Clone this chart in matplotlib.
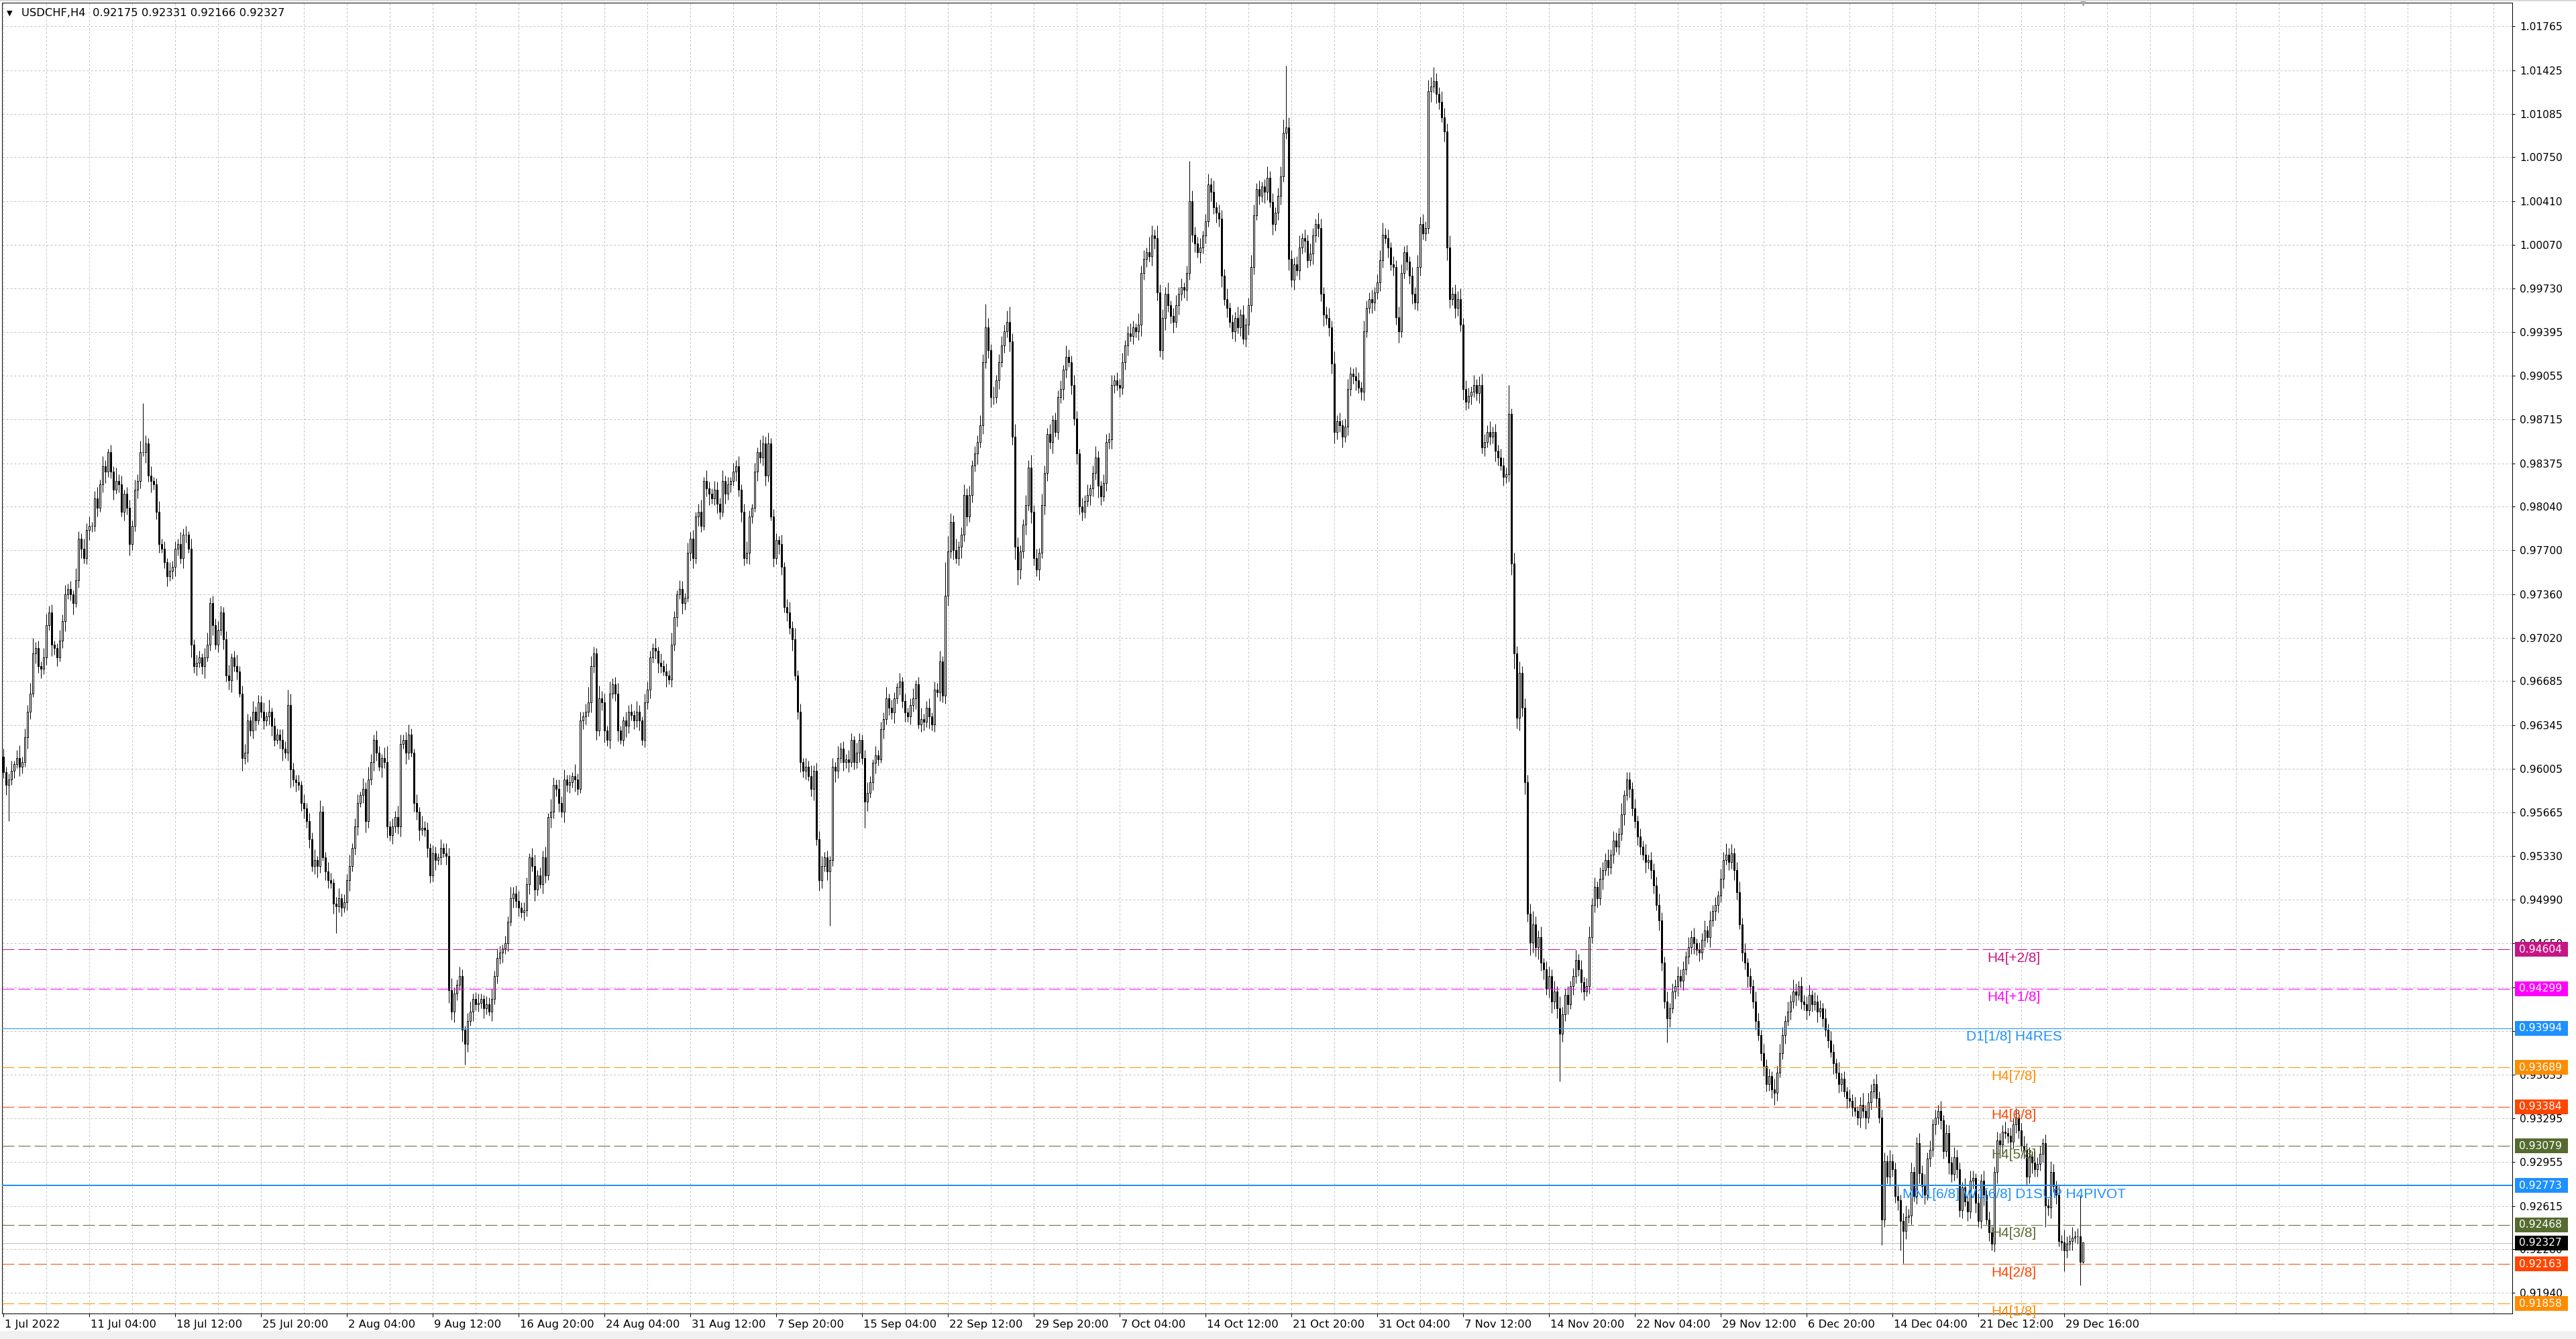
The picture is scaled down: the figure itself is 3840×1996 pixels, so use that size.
import matplotlib
matplotlib.use("Agg")
import matplotlib.pyplot as plt
import matplotlib.transforms as mtrans
from matplotlib.ticker import FixedLocator, MultipleLocator
from matplotlib.patches import Rectangle
import numpy as np

plt.rcParams['font.family'] = ['DejaVu Sans']

header = "USDCHF,H4  0.92175 0.92331 0.92166 0.92327"

# H4 closes in pips (1e-4), 16 bars per row, bar 0 = 1 Jul 2022 20:00
first_open = 9610
close_pips = [
    9598, 9588, 9592, 9599, 9604, 9609, 9602, 9606, 9625, 9645, 9659, 9690, 9694, 9680, 9678, 9687,
    9712, 9722, 9697, 9694, 9687, 9700, 9715, 9736, 9740, 9736, 9729, 9747, 9779, 9771, 9764, 9786,
    9789, 9789, 9810, 9803, 9821, 9835, 9831, 9846, 9831, 9817, 9824, 9821, 9800, 9814, 9803, 9775,
    9789, 9817, 9824, 9846, 9846, 9853, 9828, 9824, 9821, 9800, 9775, 9771, 9761, 9750, 9754, 9757,
    9771, 9775, 9764, 9782, 9782, 9771, 9697, 9680, 9683, 9687, 9680, 9687, 9697, 9729, 9712, 9697,
    9708, 9722, 9701, 9673, 9669, 9687, 9680, 9676, 9659, 9609, 9613, 9638, 9630, 9645, 9638, 9652,
    9645, 9638, 9641, 9645, 9634, 9623, 9627, 9623, 9616, 9613, 9650, 9600, 9592, 9590, 9588, 9574,
    9570, 9560, 9546, 9525, 9530, 9525, 9567, 9532, 9521, 9514, 9512, 9496, 9494, 9500, 9493, 9497,
    9514, 9525, 9539, 9556, 9574, 9580, 9585, 9560, 9592, 9606, 9623, 9613, 9602, 9609, 9606, 9556,
    9549, 9556, 9563, 9556, 9620, 9623, 9613, 9627, 9613, 9574, 9567, 9553, 9555, 9553, 9539, 9518,
    9535, 9530, 9532, 9539, 9535, 9533, 9429, 9412, 9426, 9433, 9440, 9398, 9387, 9405, 9412, 9422,
    9418, 9419, 9422, 9415, 9418, 9412, 9422, 9440, 9454, 9458, 9461, 9465, 9482, 9500, 9504, 9498,
    9493, 9489, 9491, 9511, 9532, 9525, 9507, 9518, 9511, 9532, 9518, 9563, 9567, 9588, 9585, 9574,
    9567, 9592, 9588, 9590, 9595, 9592, 9585, 9638, 9641, 9645, 9652, 9680, 9690, 9630, 9655, 9652,
    9630, 9623, 9659, 9666, 9659, 9630, 9623, 9638, 9634, 9645, 9642, 9638, 9645, 9638, 9623, 9652,
    9662, 9687, 9694, 9692, 9683, 9680, 9676, 9673, 9670, 9697, 9718, 9736, 9740, 9729, 9733, 9768,
    9779, 9764, 9796, 9800, 9789, 9824, 9818, 9814, 9810, 9817, 9806, 9800, 9824, 9814, 9821, 9824,
    9831, 9835, 9817, 9800, 9764, 9768, 9796, 9803, 9831, 9846, 9842, 9853, 9828, 9853, 9796, 9764,
    9778, 9775, 9757, 9726, 9722, 9710, 9701, 9673, 9645, 9606, 9599, 9602, 9595, 9585, 9599, 9546,
    9514, 9525, 9532, 9521, 9530, 9602, 9599, 9609, 9616, 9606, 9608, 9606, 9623, 9606, 9613, 9623,
    9609, 9575, 9582, 9590, 9605, 9611, 9608, 9631, 9639, 9655, 9648, 9644, 9655, 9664, 9668, 9653,
    9644, 9641, 9650, 9655, 9666, 9635, 9639, 9637, 9648, 9641, 9635, 9662, 9660, 9684, 9657, 9735,
    9769, 9792, 9770, 9764, 9773, 9782, 9813, 9796, 9813, 9836, 9845, 9854, 9867, 9916, 9943, 9925,
    9889, 9889, 9902, 9916, 9929, 9940, 9947, 9932, 9858, 9773, 9755, 9769, 9790, 9805, 9834, 9800,
    9764, 9755, 9768, 9805, 9830, 9860, 9854, 9871, 9862, 9889, 9895, 9910, 9920, 9916, 9898, 9872,
    9845, 9804, 9800, 9808, 9813, 9818, 9830, 9842, 9820, 9812, 9822, 9854, 9856, 9898, 9902, 9898,
    9896, 9916, 9929, 9938, 9936, 9943, 9940, 9945, 9985, 9996, 10001, 9998, 10014, 10012, 9970, 9925,
    9950, 9969, 9960, 9952, 9947, 9960, 9969, 9974, 9972, 9985, 10041, 10015, 10008, 10001, 10005, 10014,
    10025, 10054, 10048, 10036, 10032, 10027, 9983, 9965, 9958, 9947, 9940, 9950, 9943, 9953, 9934, 9945,
    9960, 9990, 10030, 10050, 10045, 10052, 10048, 10059, 10040, 10023, 10032, 10045, 10060, 10094, 10098, 9996,
    9980, 9992, 9987, 10005, 10012, 10010, 9995, 10000, 10014, 10023, 10020, 9969, 9953, 9950, 9943, 9915,
    9862, 9870, 9867, 9858, 9866, 9895, 9907, 9905, 9902, 9896, 9893, 9940, 9958, 9965, 9962, 9970,
    9978, 9995, 10015, 10012, 10005, 9992, 9990, 9951, 9940, 9985, 10001, 9994, 9983, 9969, 9962, 9990,
    10023, 10016, 10020, 10126, 10130, 10134, 10124, 10118, 10106, 10095, 10005, 9965, 9969, 9958, 9965, 9945,
    9895, 9885, 9890, 9893, 9898, 9892, 9898, 9850, 9854, 9862, 9858, 9862, 9847, 9842, 9836, 9827,
    9829, 9876, 9760, 9690, 9640, 9675, 9648, 9590, 9488, 9466, 9480, 9462, 9470, 9450, 9445, 9430,
    9440, 9420, 9428, 9415, 9395, 9410, 9425, 9418, 9432, 9440, 9452, 9445, 9435, 9428, 9432, 9470,
    9495, 9509, 9500, 9515, 9522, 9530, 9524, 9534, 9545, 9540, 9550, 9565, 9580, 9592, 9585, 9570,
    9560, 9548, 9540, 9534, 9528, 9530, 9522, 9510, 9495, 9483, 9450, 9420, 9407, 9415, 9428, 9432,
    9440, 9436, 9445, 9455, 9462, 9470, 9465, 9460, 9458, 9468, 9475, 9470, 9483, 9490, 9495, 9502,
    9515, 9530, 9534, 9528, 9535, 9522, 9505, 9480, 9458, 9450, 9440, 9432, 9420, 9405, 9394, 9380,
    9370, 9356, 9362, 9352, 9349, 9365, 9380, 9394, 9405, 9412, 9420, 9428, 9425, 9432, 9420, 9418,
    9413, 9425, 9418, 9420, 9412, 9415, 9407, 9398, 9390, 9381, 9372, 9365, 9356, 9360, 9350, 9345,
    9343, 9338, 9335, 9330, 9340, 9335, 9330, 9342, 9350, 9356, 9345, 9330, 9251, 9296, 9284, 9296,
    9290, 9269, 9266, 9250, 9242, 9253, 9254, 9288, 9269, 9310, 9287, 9277, 9270, 9298, 9305, 9325,
    9330, 9335, 9328, 9304, 9318, 9295, 9286, 9299, 9290, 9258, 9276, 9265, 9257, 9281, 9283, 9264,
    9250, 9281, 9270, 9251, 9241, 9232, 9288, 9312, 9309, 9319, 9318, 9316, 9311, 9325, 9330, 9320,
    9308, 9305, 9284, 9300, 9295, 9290, 9294, 9302, 9310, 9262, 9260, 9288, 9277, 9270, 9234, 9233,
    9227, 9232, 9234, 9237, 9238, 9238, 9218, 9233,
]

# upper / lower wick beyond the body, pips
hi_ext = [
    6, 4, 5, 8, 3, 6, 10, 4, 7, 5, 8, 12, 5, 6, 4, 7,
    9, 5, 6, 3, 4, 8, 5, 7, 4, 6, 3, 9, 6, 4, 8, 5,
    7, 3, 6, 9, 4, 8, 5, 3, 6, 4, 10, 5, 7, 3, 5, 6,
    4, 8, 5, 9, 38, 6, 4, 7, 3, 5, 8, 4, 6, 3, 7, 5,
    6, 4, 9, 5, 7, 3, 8, 4, 6, 5, 3, 7, 9, 4, 6, 5,
    7, 5, 4, 6, 8, 3, 5, 9, 4, 6, 7, 5, 3, 8, 4, 6,
    5, 7, 4, 9, 3, 6, 5, 4, 8, 6, 12, 9, 5, 4, 6, 3,
    7, 4, 6, 5, 8, 3, 9, 5, 4, 7, 6, 3, 5, 8, 4, 6,
    5, 9, 4, 6, 7, 3, 8, 5, 10, 6, 4, 7, 5, 3, 8, 12,
    4, 6, 5, 9, 7, 4, 6, 8, 5, 3, 7, 4, 9, 5, 6, 4,
    6, 5, 3, 7, 4, 8, 6, 9, 5, 4, 7, 5, 3, 6, 8, 4,
    5, 7, 4, 3, 6, 5, 8, 4, 7, 5, 3, 6, 4, 9, 5, 6,
    8, 4, 6, 5, 3, 7, 9, 4, 6, 5, 8, 3, 10, 6, 4, 7,
    5, 8, 4, 6, 3, 9, 5, 7, 4, 6, 12, 8, 5, 4, 10, 6,
    7, 4, 9, 5, 6, 8, 4, 3, 7, 5, 6, 4, 8, 5, 3, 7,
    6, 5, 4, 8, 3, 7, 5, 6, 4, 9, 5, 3, 7, 6, 4, 8,
    5, 7, 4, 6, 9, 3, 8, 5, 4, 7, 6, 5, 8, 4, 6, 3,
    7, 5, 8, 4, 6, 9, 5, 3, 7, 4, 10, 6, 5, 8, 4, 6,
    5, 3, 7, 4, 6, 8, 5, 9, 4, 6, 3, 7, 5, 8, 4, 6,
    6, 8, 4, 5, 3, 7, 4, 9, 5, 6, 4, 7, 5, 3, 8, 5,
    4, 6, 8, 5, 3, 7, 4, 6, 5, 9, 4, 6, 5, 3, 7, 4,
    6, 4, 5, 8, 3, 6, 9, 4, 5, 7, 3, 6, 5, 8, 4, 26,
    12, 7, 5, 9, 4, 6, 8, 5, 7, 4, 6, 5, 8, 6, 18, 7,
    5, 8, 4, 6, 7, 5, 9, 12, 6, 10, 7, 5, 4, 8, 6, 10,
    5, 7, 4, 9, 6, 5, 8, 4, 6, 5, 7, 4, 9, 6, 5, 8,
    6, 4, 7, 5, 8, 3, 6, 9, 5, 4, 7, 6, 5, 8, 4, 6,
    5, 7, 4, 6, 8, 5, 3, 9, 6, 7, 4, 12, 8, 5, 10, 6,
    7, 5, 9, 4, 6, 8, 5, 7, 4, 6, 31, 8, 6, 5, 7, 4,
    6, 8, 5, 9, 4, 6, 7, 5, 8, 4, 6, 5, 9, 4, 7, 5,
    6, 9, 8, 5, 7, 4, 6, 9, 5, 7, 4, 6, 8, 10, 48, 8,
    7, 5, 6, 9, 4, 7, 5, 8, 6, 4, 9, 7, 5, 6, 8, 5,
    9, 5, 7, 4, 6, 8, 5, 4, 7, 6, 5, 8, 6, 5, 7, 4,
    6, 8, 9, 5, 7, 4, 6, 5, 8, 7, 5, 6, 4, 7, 5, 9,
    6, 8, 5, 9, 7, 11, 6, 5, 8, 7, 6, 9, 5, 7, 6, 8,
    5, 7, 6, 4, 8, 5, 7, 9, 6, 5, 8, 4, 6, 5, 7, 6,
    5, 22, 4, 8, 6, 9, 5, 7, 6, 8, 10, 6, 5, 8, 4, 6,
    7, 5, 8, 4, 9, 6, 5, 7, 4, 6, 8, 5, 7, 4, 6, 8,
    5, 7, 4, 9, 6, 5, 8, 4, 7, 6, 5, 9, 4, 6, 6, 5,
    7, 4, 6, 5, 8, 4, 6, 5, 7, 9, 6, 5, 8, 4, 6, 5,
    7, 5, 6, 4, 8, 5, 7, 4, 6, 5, 8, 4, 7, 5, 6, 4,
    8, 6, 9, 5, 7, 4, 6, 8, 5, 7, 4, 6, 5, 8, 6, 4,
    7, 5, 6, 4, 8, 5, 7, 6, 4, 8, 5, 9, 6, 4, 7, 5,
    6, 8, 4, 7, 5, 6, 4, 8, 5, 7, 6, 4, 8, 5, 6, 4,
    7, 5, 8, 4, 6, 9, 5, 7, 6, 4, 8, 5, 6, 7, 5, 9,
    6, 5, 8, 4, 6, 9, 5, 7, 4, 5, 8, 6, 9, 5, 7, 4,
    6, 5, 8, 4, 7, 6, 5, 8, 6, 5, 4, 7, 5, 8, 6, 4,
    7, 5, 8, 4, 6, 5, 4, 7, 6, 5, 8, 4, 6, 5, 7, 5,
    6, 8, 5, 7, 4, 9, 5, 6, 4, 7, 5, 8, 6, 4, 7, 5,
    10, 6, 5, 8, 4, 6, 31, 0,
]
lo_ext = [
    5, 8, 28, 4, 6, 3, 7, 5, 4, 9, 6, 3, 8, 5, 7, 4,
    6, 4, 9, 5, 7, 3, 6, 8, 4, 5, 9, 3, 6, 7, 4, 5,
    8, 5, 4, 7, 3, 6, 9, 4, 5, 8, 3, 6, 4, 7, 5, 9,
    5, 4, 7, 6, 3, 8, 5, 9, 4, 6, 7, 3, 5, 8, 4, 6,
    7, 5, 4, 8, 6, 3, 10, 5, 7, 4, 6, 9, 3, 5, 8, 4,
    6, 4, 8, 5, 7, 9, 4, 6, 3, 10, 5, 7, 4, 6, 8, 3,
    5, 7, 4, 6, 8, 5, 3, 7, 9, 4, 6, 14, 5, 7, 4, 6,
    8, 5, 7, 4, 6, 9, 5, 3, 7, 6, 4, 8, 21, 5, 7, 4,
    6, 8, 4, 5, 7, 3, 6, 9, 5, 4, 7, 6, 3, 8, 5, 9,
    4, 7, 5, 6, 8, 4, 9, 5, 3, 7, 6, 8, 4, 5, 7, 6,
    5, 8, 4, 6, 3, 7, 10, 6, 8, 5, 4, 9, 16, 6, 4, 7,
    5, 6, 4, 8, 5, 3, 7, 4, 6, 5, 8, 4, 6, 3, 7, 5,
    7, 4, 6, 5, 8, 4, 9, 5, 3, 7, 6, 4, 8, 5, 6, 7,
    4, 8, 5, 6, 4, 9, 5, 3, 7, 6, 4, 8, 5, 7, 4, 6,
    9, 5, 7, 4, 6, 8, 3, 5, 9, 6, 4, 7, 5, 8, 4, 6,
    5, 7, 4, 6, 8, 5, 3, 9, 4, 6, 5, 7, 4, 8, 5, 3,
    6, 8, 4, 7, 5, 3, 6, 9, 4, 5, 7, 6, 4, 8, 5, 6,
    4, 7, 5, 8, 6, 4, 9, 5, 3, 7, 4, 6, 8, 5, 3, 7,
    5, 8, 6, 4, 7, 5, 9, 4, 6, 8, 5, 7, 4, 6, 9, 5,
    8, 6, 4, 7, 42, 5, 9, 6, 4, 7, 5, 8, 4, 6, 5, 7,
    5, 20, 7, 4, 6, 8, 5, 3, 7, 4, 6, 5, 8, 4, 6, 5,
    7, 4, 6, 5, 8, 3, 6, 7, 4, 9, 5, 6, 4, 7, 5, 6,
    8, 5, 7, 4, 6, 9, 5, 7, 4, 6, 5, 8, 4, 7, 5, 6,
    8, 6, 5, 7, 4, 6, 5, 8, 6, 10, 12, 7, 5, 8, 4, 9,
    6, 5, 8, 4, 7, 6, 5, 9, 4, 6, 5, 8, 6, 4, 7, 5,
    8, 6, 7, 5, 4, 8, 6, 5, 9, 7, 4, 6, 5, 7, 6, 4,
    7, 5, 6, 8, 4, 6, 5, 7, 9, 5, 6, 4, 7, 8, 6, 5,
    7, 9, 5, 6, 8, 4, 7, 5, 6, 8, 5, 6, 7, 4, 8, 5,
    6, 4, 7, 5, 8, 6, 9, 5, 7, 4, 6, 8, 5, 7, 4, 6,
    8, 5, 6, 4, 7, 5, 9, 6, 4, 8, 5, 6, 7, 4, 5, 9,
    6, 8, 4, 7, 5, 9, 6, 4, 8, 5, 7, 6, 9, 5, 7, 8,
    9, 6, 5, 8, 4, 7, 5, 6, 8, 4, 6, 7, 5, 4, 8, 6,
    5, 7, 6, 4, 8, 5, 7, 6, 9, 5, 4, 7, 6, 8, 5, 6,
    7, 5, 6, 4, 8, 5, 7, 6, 4, 8, 10, 7, 5, 8, 6, 5,
    8, 6, 5, 7, 4, 6, 8, 5, 7, 4, 6, 5, 8, 6, 4, 7,
    5, 6, 9, 12, 8, 10, 7, 9, 6, 10, 8, 7, 9, 6, 8, 5,
    7, 9, 6, 8, 37, 6, 5, 8, 4, 7, 6, 5, 8, 7, 4, 6,
    5, 6, 7, 5, 8, 4, 6, 5, 7, 4, 6, 5, 8, 4, 7, 6,
    5, 7, 6, 4, 8, 5, 7, 6, 4, 8, 6, 5, 19, 7, 4, 6,
    8, 5, 7, 4, 6, 5, 8, 4, 7, 5, 6, 4, 8, 5, 7, 6,
    5, 7, 4, 6, 5, 8, 6, 4, 7, 5, 9, 6, 5, 7, 4, 6,
    8, 6, 5, 7, 9, 6, 4, 5, 7, 4, 6, 5, 8, 4, 6, 5,
    7, 4, 6, 5, 8, 4, 7, 5, 6, 4, 8, 5, 7, 6, 4, 8,
    5, 7, 4, 6, 8, 5, 9, 4, 6, 5, 7, 4, 20, 6, 5, 7,
    6, 5, 8, 23, 25, 6, 5, 7, 4, 6, 8, 5, 7, 4, 6, 5,
    8, 5, 7, 6, 4, 9, 6, 5, 7, 5, 6, 4, 7, 5, 6, 8,
    5, 6, 8, 4, 7, 5, 6, 9, 5, 7, 4, 6, 8, 5, 7, 6,
    4, 7, 6, 5, 8, 6, 6, 5, 7, 17, 6, 8, 5, 7, 4, 6,
    16, 6, 5, 7, 4, 6, 18, 1,
]

date_labels = [
    "1 Jul 2022", "11 Jul 04:00", "18 Jul 12:00", "25 Jul 20:00", "2 Aug 04:00",
    "9 Aug 12:00", "16 Aug 20:00", "24 Aug 04:00", "31 Aug 12:00", "7 Sep 20:00",
    "15 Sep 04:00", "22 Sep 12:00", "29 Sep 20:00", "7 Oct 04:00", "14 Oct 12:00",
    "21 Oct 20:00", "31 Oct 04:00", "7 Nov 12:00", "14 Nov 20:00", "22 Nov 04:00",
    "29 Nov 12:00", "6 Dec 20:00", "14 Dec 04:00", "21 Dec 12:00", "29 Dec 16:00",
]
bars_per_label = 32

price_labels = [
    "1.01765", "1.01425", "1.01085", "1.00750", "1.00410", "1.00070", "0.99730",
    "0.99395", "0.99055", "0.98715", "0.98375", "0.98040", "0.97700", "0.97360",
    "0.97020", "0.96685", "0.96345", "0.96005", "0.95665", "0.95330", "0.94990",
    "0.94650", "0.94310", "0.93970", "0.93635", "0.93295", "0.92955", "0.92615",
    "0.92280", "0.91940",
]

level_names = ["H4[+2/8]", "H4[+1/8]", "D1[1/8] H4RES", "H4[7/8]", "H4[6/8]",
               "H4[5/8]", "MN1[6/8] W1[6/8] D1SUP H4PIVOT", "H4[3/8]", "H4[2/8]", "H4[1/8]"]
level_prices = [0.94604, 0.94299, 0.93994, 0.93689, 0.93384,
                0.93079, 0.92773, 0.92468, 0.92163, 0.91858]
last_price = 0.92327

# styles
level_colors = ["#C71585", "#FF00FF", "#1E90FF", "#FF8C00", "#FF4500",
                "#556B2F", "#1E90FF", "#556B2F", "#FF4500", "#FF8C00"]
level_solid = [False, False, True, False, False, False, True, False, False, False]
level_lw = [1, 1, 1, 1, 1, 1, 2, 1, 1, 1]

W, H = 3840, 1996
PX = 72 / 100  # one pixel in points

c = np.array(close_pips) / 1e4
o = np.concatenate([[first_open / 1e4], c[:-1]])
top = np.maximum(o, c)
bot = np.minimum(o, c)
hi = top + np.array(hi_ext) / 1e4
lo = bot - np.array(lo_ext) / 1e4
x = np.arange(len(c))

fig = plt.figure(figsize=(W / 100, H / 100), dpi=100)
fig.patch.set_facecolor("white")
left, right, ytop, ybot = 3, 3745, 4, 1958
y0, y1 = 0.91780, 1.01948
ax = fig.add_axes([left / W, 1 - ybot / H, (right - left) / W, (ybot - ytop) / H])
ax.set_xlim(-0.5, 935)
ax.set_ylim(y0, y1)

for s in ax.spines.values():
    s.set_color("black")
    s.set_linewidth(PX)

# grid
ax.xaxis.set_major_locator(FixedLocator(np.arange(len(date_labels)) * bars_per_label))
ax.xaxis.set_minor_locator(MultipleLocator(16))
ax.set_xticklabels(date_labels)
ax.set_yticks([float(p) for p in price_labels])
ax.set_yticklabels(price_labels)
ax.grid(which="both", color="#C0C0C0", linewidth=PX, linestyle=(0, (3, 3)), zorder=0)
ax.set_axisbelow(True)

ax.yaxis.tick_right()
ax.tick_params(axis="y", which="major", direction="out", length=4 * PX, width=PX,
               pad=5, labelsize=11.2, colors="black")
ax.tick_params(axis="x", which="major", direction="out", length=5 * PX, width=PX,
               pad=3, labelsize=11.8, colors="black")
ax.tick_params(axis="x", which="minor", length=0)
shift = mtrans.ScaledTranslation(2 / 100, 0, fig.dpi_scale_trans)
for lab in ax.get_xticklabels():
    lab.set_ha("left")
    lab.set_transform(lab.get_transform() + shift)

# current price line
ax.axhline(last_price, color="#C0C0C0", linewidth=PX, zorder=1)

# candles
ax.vlines(x, lo, hi, colors="black", linewidth=PX, zorder=2)
up = c >= o
ax.bar(x[up], (c - o)[up], bottom=o[up], width=0.55, facecolor="white",
       edgecolor="black", linewidth=PX, zorder=3)
ax.bar(x[~up], (o - c)[~up], bottom=c[~up], width=0.55, facecolor="black",
       edgecolor="black", linewidth=PX, zorder=3)

# Murrey levels
label_x = (3002 - 5) / 4
for name, price, col, solid, lw in zip(level_names, level_prices, level_colors, level_solid, level_lw):
    ls = "-" if solid else (0, (18, 6))
    ax.axhline(price, color=col, linewidth=lw * PX, linestyle=ls, zorder=4)
    t = ax.annotate(name, xy=(label_x, price), xytext=(0, -2.5), textcoords="offset points",
                    ha="center", va="top", color=col, fontsize=15,
                    family=["Liberation Sans", "DejaVu Sans"], zorder=6)
    t.set_clip_on(True)

# price tags on the right scale, 79 x 22 px boxes
def fig_y(p):
    return (H - ybot + (p - y0) / (y1 - y0) * (ybot - ytop)) / H

for price, col in zip(level_prices + [last_price], level_colors + ["black"]):
    yc = fig_y(price)
    fig.add_artist(Rectangle((3749 / W, yc - 11 / H), 79 / W, 22 / H,
                             transform=fig.transFigure, facecolor=col,
                             edgecolor="none", zorder=5))
    fig.text(3755 / W, yc, "%.5f" % price, ha="left", va="center", color="white",
             fontsize=11.2, zorder=6)

# chart shift marker
ax.plot([len(c) - 1], [y1], marker="v", color="#A8A8A8", markersize=6,
        clip_on=False, zorder=10)

# header
fig.text(10 / W, 1 - 20 / H, "\u25bc", fontsize=8, va="center", ha="left", color="black")
fig.text(32 / W, 1 - 20 / H, header, fontsize=11.8, va="center", ha="left", color="black")

# window frame strips
fig.add_artist(Rectangle((0, 0), 1, 12 / H, transform=fig.transFigure,
                         facecolor="#F0F0F0", edgecolor="none"))
fig.add_artist(Rectangle((0, 1 - 2 / H), 1, 2 / H, transform=fig.transFigure,
                         facecolor="#D8D8D8", edgecolor="none"))

fig.savefig("out.png", dpi=100)
